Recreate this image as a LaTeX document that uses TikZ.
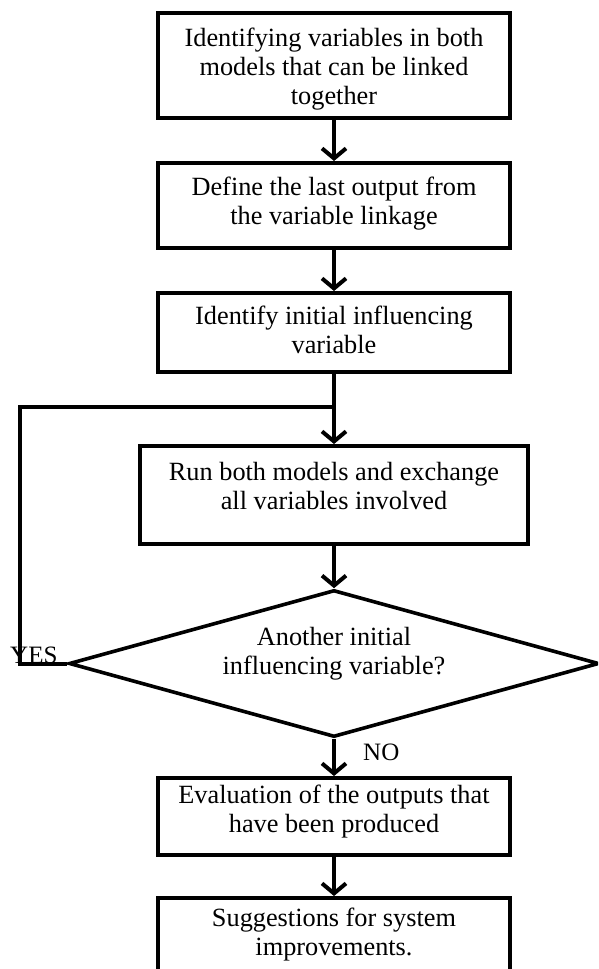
\documentclass[tikz,border=0pt]{standalone}
\usepackage{fontspec}
\setmainfont{Liberation Serif}
\usetikzlibrary{arrows.meta,shapes.geometric}
\tikzset{
  box/.style={draw=black, line width=4pt, rectangle, inner sep=0pt, fill=white},
  dia/.style={draw=black, line width=3.6pt, diamond, inner sep=0pt, line join=miter},
  txt/.style={align=center, inner sep=0pt, font=\fontsize{26.3}{29}\selectfont},
  lbl/.style={inner sep=0pt, font=\fontsize{25}{29}\selectfont},
  flow/.style={line width=4pt, -{Straight Barb[length=10pt,width=24pt,line width=4pt]}},
  link/.style={line width=4pt, line join=miter}
}
\begin{document}
\begin{tikzpicture}[x=1pt,y=-1pt]
\clip (0,0) rectangle (598,969);
\fill[white] (0,0) rectangle (598,969);
% boxes
\node[box, minimum width=352pt, minimum height=105pt] (b1) at (334,65.5) {};
\node[txt] (t1) at (334,69) {Identifying variables in both\\models that can be linked\\together};
\node[box, minimum width=352pt, minimum height=85pt] (b2) at (334,205.5) {};
\node[txt] (t2) at (334,204) {Define the last output from\\the variable linkage};
\node[box, minimum width=352pt, minimum height=79pt] (b3) at (334,332.5) {};
\node[txt] (t3) at (334,330) {Identify initial influencing\\variable};
\node[box, minimum width=388pt, minimum height=98pt] (b4) at (334,495) {};
\node[txt] (t4) at (334,486) {Run both models and exchange\\all variables involved};
\node[dia, minimum width=530pt, minimum height=147pt] (d) at (334,663.5) {};
\node[txt] (td) at (334,654) {Another initial\\influencing variable?};
\node[box, minimum width=352pt, minimum height=77pt] (b5) at (334,816.5) {};
\node[txt] (t5) at (334,812) {Evaluation of the outputs that\\have been produced};
\node[box, minimum width=352pt, minimum height=82pt] (b6) at (334,939) {};
\node[txt] (t6) at (334,935) {Suggestions for system\\improvements.};
% connectors
\draw[flow] (b1.south) -- (b2.north);
\draw[flow] (b2.south) -- (b3.north);
\draw[flow] (b3.south) -- (b4.north);
\draw[flow] (b4.south) -- (d.north);
\draw[flow] (d.south) -- (b5.north);
\draw[flow] (b5.south) -- (b6.north);
% loop back
\coordinate (yesc) at (20,663.5);
\coordinate (join) at (334,407);
\draw[link] (d.west) -- (yesc) |- (join);
% labels
\node[lbl, anchor=base west] (yes) at (10,663) {YES};
\node[lbl, anchor=base west] (no) at (363,760) {NO};
\end{tikzpicture}
\end{document}
